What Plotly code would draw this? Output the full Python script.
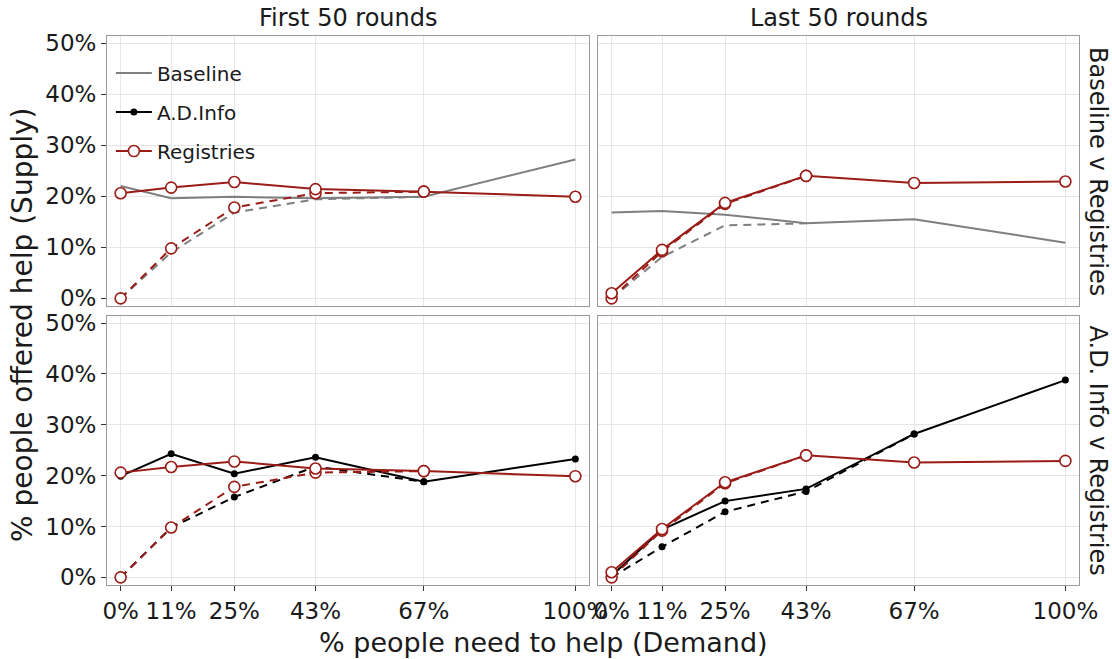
import plotly.graph_objects as go

# Demand levels (% of people needing help) and their tick labels
demand = [0, 100 / 9, 25, 300 / 7, 200 / 3, 100]
demand_labels = ["0%", "11%", "25%", "43%", "67%", "100%"]
supply_ticks = [0, 10, 20, 30, 40, 50]
supply_labels = ["0%", "10%", "20%", "30%", "40%", "50%"]

col_titles = ["First 50 rounds", "Last 50 rounds"]
row_titles = ["Baseline v Registries", "A.D. Info v Registries"]

# Supply (% offering help); solid = offered, dashed = realised (demand levels up to the last dashed point)
baseline_first_solid = [22.0, 19.6, 19.9, 19.6, 19.9, 27.2]
baseline_first_dashed = [0.0, 9.0, 16.8, 19.4, 19.9]
baseline_last_solid = [16.8, 17.1, 16.4, 14.7, 15.5, 10.9]
baseline_last_dashed = [0.0, 8.1, 14.3, 14.7]

adinfo_first_solid = [19.9, 24.3, 20.4, 23.6, 18.8, 23.3]
adinfo_first_dashed = [0.0, 9.8, 15.8, 21.8, 18.8]
adinfo_last_solid = [0.3, 9.4, 15.0, 17.4, 28.2, 38.8]
adinfo_last_dashed = [0.0, 6.0, 12.9, 16.9, 28.2]

registries_first_solid = [20.6, 21.7, 22.8, 21.4, 20.9, 19.9]
registries_first_dashed = [0.0, 9.8, 17.8, 20.6, 20.9]
registries_last_solid = [1.0, 9.5, 18.7, 24.0, 22.6, 22.9]
registries_last_dashed = [0.0, 9.2, 18.5, 24.0]

GREY = "#7f7f7f"
BLACK = "#000000"
RED = "#9a1c17"
FONT = "DejaVu Sans, Liberation Sans, Arial, sans-serif"
TXT = "#1a1a1a"
DASH = "8px,6px"

styles = {
    "Baseline": dict(line=dict(color=GREY, width=2), mode="lines", marker=None),
    "A.D.Info": dict(line=dict(color=BLACK, width=2), mode="lines+markers",
                     marker=dict(symbol="circle", size=7, color=BLACK)),
    "Registries": dict(line=dict(color=RED, width=2), mode="lines+markers",
                       marker=dict(symbol="circle", size=11, color="white",
                                   line=dict(color=RED, width=1.6))),
}

fig = go.Figure()

# axis ids: top row uses x3/x4, bottom row uses x/x2
panels = [
    ("x3", "y3", "Baseline", baseline_first_solid, baseline_first_dashed,
     registries_first_solid, registries_first_dashed),
    ("x4", "y4", "Baseline", baseline_last_solid, baseline_last_dashed,
     registries_last_solid, registries_last_dashed),
    ("x", "y", "A.D.Info", adinfo_first_solid, adinfo_first_dashed,
     registries_first_solid, registries_first_dashed),
    ("x2", "y2", "A.D.Info", adinfo_last_solid, adinfo_last_dashed,
     registries_last_solid, registries_last_dashed),
]

legend_shown = set()


def add_series(name, xs, ys, dashed, xa, ya):
    st = styles[name]
    line = dict(st["line"])
    if dashed:
        line["dash"] = DASH
    show = (not dashed) and name not in legend_shown
    if show:
        legend_shown.add(name)
    kw = dict(x=xs, y=ys, mode=st["mode"], line=line, name=name,
              legendgroup=name, showlegend=show, xaxis=xa, yaxis=ya,
              hovertemplate="%{x:.0f}%%, %{y:.1f}%%<extra>" + name + "</extra>")
    if st["marker"] is not None:
        kw["marker"] = st["marker"]
    fig.add_trace(go.Scatter(**kw))


for xa, ya, comp, solid, dashed, rsolid, rdashed in panels:
    add_series(comp, demand[:len(dashed)], dashed, True, xa, ya)
    add_series(comp, demand, solid, False, xa, ya)
    add_series("Registries", demand[:len(rdashed)], rdashed, True, xa, ya)
    add_series("Registries", demand, rsolid, False, xa, ya)

# legend order: Baseline, A.D.Info, Registries
order = {"Baseline": 0, "A.D.Info": 1, "Registries": 2}
for tr in fig.data:
    tr.legendrank = order[tr.name] * 10 + 1

W, H = 1112, 659
L, R, T, B = 107, 33, 36, 74
pw, ph = W - L - R, H - T - B
# panel boxes in paper units
left_x = (0, (589 - L) / pw)
right_x = ((598 - L) / pw, 1)
bottom_y = (0, (585 - 316) / ph)
top_y = ((585 - 306) / ph, 1)

xrange_ = [-3.0, 103.0]
yrange_ = [-1.5, 51.4]

common_x = dict(range=xrange_, tickvals=demand, ticktext=demand_labels,
                showgrid=True, gridcolor="#e6e6e6", gridwidth=1, zeroline=False,
                showline=True, linecolor="#9a9a9a", linewidth=1, mirror=True,
                tickfont=dict(family=FONT, size=23, color=TXT), fixedrange=True)
common_y = dict(range=yrange_, tickvals=supply_ticks, ticktext=supply_labels,
                showgrid=True, gridcolor="#e6e6e6", gridwidth=1, zeroline=False,
                showline=True, linecolor="#9a9a9a", linewidth=1, mirror=True,
                tickfont=dict(family=FONT, size=23, color=TXT), fixedrange=True)

tick_on = dict(ticks="outside", ticklen=5, tickwidth=1, tickcolor="#333333", showticklabels=True)
tick_off = dict(ticks="", showticklabels=False)

fig.update_layout(
    width=W, height=H,
    margin=dict(l=L, r=R, t=T, b=B),
    paper_bgcolor="white", plot_bgcolor="white",
    font=dict(family=FONT, color=TXT),
    xaxis=dict(domain=left_x, anchor="y", **common_x, **tick_on),
    xaxis2=dict(domain=right_x, anchor="y2", **common_x, **tick_on),
    xaxis3=dict(domain=left_x, anchor="y3", **common_x, **tick_off),
    xaxis4=dict(domain=right_x, anchor="y4", **common_x, **tick_off),
    yaxis=dict(domain=bottom_y, anchor="x", **common_y, **tick_on),
    yaxis2=dict(domain=bottom_y, anchor="x2", **common_y, **tick_off),
    yaxis3=dict(domain=top_y, anchor="x3", **common_y, **tick_on),
    yaxis4=dict(domain=top_y, anchor="x4", **common_y, **tick_off),
    showlegend=True,
    legend=dict(x=0.004, y=0.968, xanchor="left", yanchor="top",
                bgcolor="rgba(0,0,0,0)", borderwidth=0,
                font=dict(family=FONT, size=20, color=TXT),
                traceorder="grouped", tracegroupgap=10, itemwidth=36),
)

annotations = []
for i, t in enumerate(col_titles):
    dom = left_x if i == 0 else right_x
    annotations.append(dict(text=t, x=(dom[0] + dom[1]) / 2, y=1, xref="paper", yref="paper",
                            yshift=18, xanchor="center", yanchor="middle", showarrow=False,
                            font=dict(family=FONT, size=24, color=TXT)))
for i, t in enumerate(row_titles):
    dom = top_y if i == 0 else bottom_y
    annotations.append(dict(text=t, x=1, y=(dom[0] + dom[1]) / 2, xref="paper", yref="paper",
                            xshift=19, xanchor="center", yanchor="middle", textangle=90,
                            showarrow=False, font=dict(family=FONT, size=24, color=TXT)))
annotations.append(dict(text="% people need to help (Demand)", x=(543 - L) / pw, y=0,
                        xref="paper", yref="paper", yshift=-57, xanchor="center",
                        yanchor="middle", showarrow=False,
                        font=dict(family=FONT, size=27, color=TXT)))
annotations.append(dict(text="% people offered help (Supply)", x=0, y=(585 - 325) / ph,
                        xref="paper", yref="paper", xshift=-85, xanchor="center",
                        yanchor="middle", textangle=-90, showarrow=False,
                        font=dict(family=FONT, size=28, color=TXT)))
fig.update_layout(annotations=annotations)

fig.write_html("out.html")
